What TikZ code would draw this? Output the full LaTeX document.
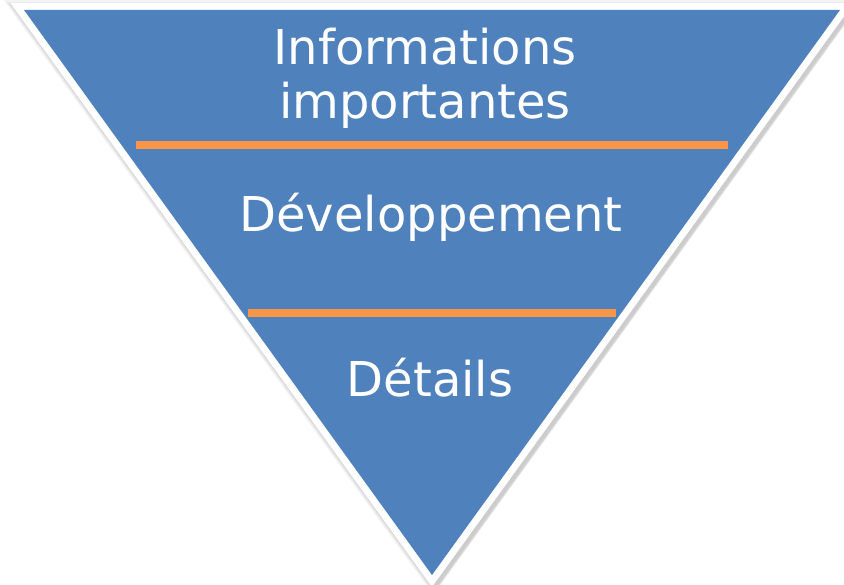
\documentclass[tikz,border=0pt]{standalone}
\usepackage{fontspec}
\setmainfont{DejaVu Sans}
\definecolor{tblue}{HTML}{4F81BD}
\definecolor{torange}{HTML}{F79646}
\begin{document}
\begin{tikzpicture}[x=1pt,y=1pt,
  lbl/.style={anchor=base, text=white, font=\fontsize{48}{54}\selectfont, inner sep=0pt},
  sep/.style={draw=torange, line width=8pt}]
\useasboundingbox (0,0) rectangle (844,585);
\coordinate (A) at (24,575);
\coordinate (B) at (840,575);
\coordinate (C) at (432,10);
% soft shadow
\foreach \o/\w in {1/22, 2/20, 2/18, 2/16, 3/15}{
  \draw[black, opacity=0.045, line width=\w pt, line join=miter, fill=black, fill opacity=0.045]
    ([shift={(\o,-\o)}]A) -- ([shift={(\o,-\o)}]B) -- ([shift={(\o,-\o)}]C) -- cycle;
}
% white border
\draw[white, line width=14pt, line join=miter, fill=white] (A) -- (B) -- (C) -- cycle;
\fill[tblue] (A) -- (B) -- (C) -- cycle;
% separators
\coordinate (s1a) at (136,440); \coordinate (s1b) at (728,440);
\coordinate (s2a) at (248,272); \coordinate (s2b) at (616,272);
\draw[sep] (s1a) -- (s1b);
\draw[sep] (s2a) -- (s2b);
% labels
\node[lbl] (t1) at (425,520) {Informations};
\node[lbl] (t2) at (425,466) {importantes};
\node[lbl] (t3) at (431,353) {Développement};
\node[lbl] (t4) at (430,188) {Détails};
\end{tikzpicture}
\end{document}
